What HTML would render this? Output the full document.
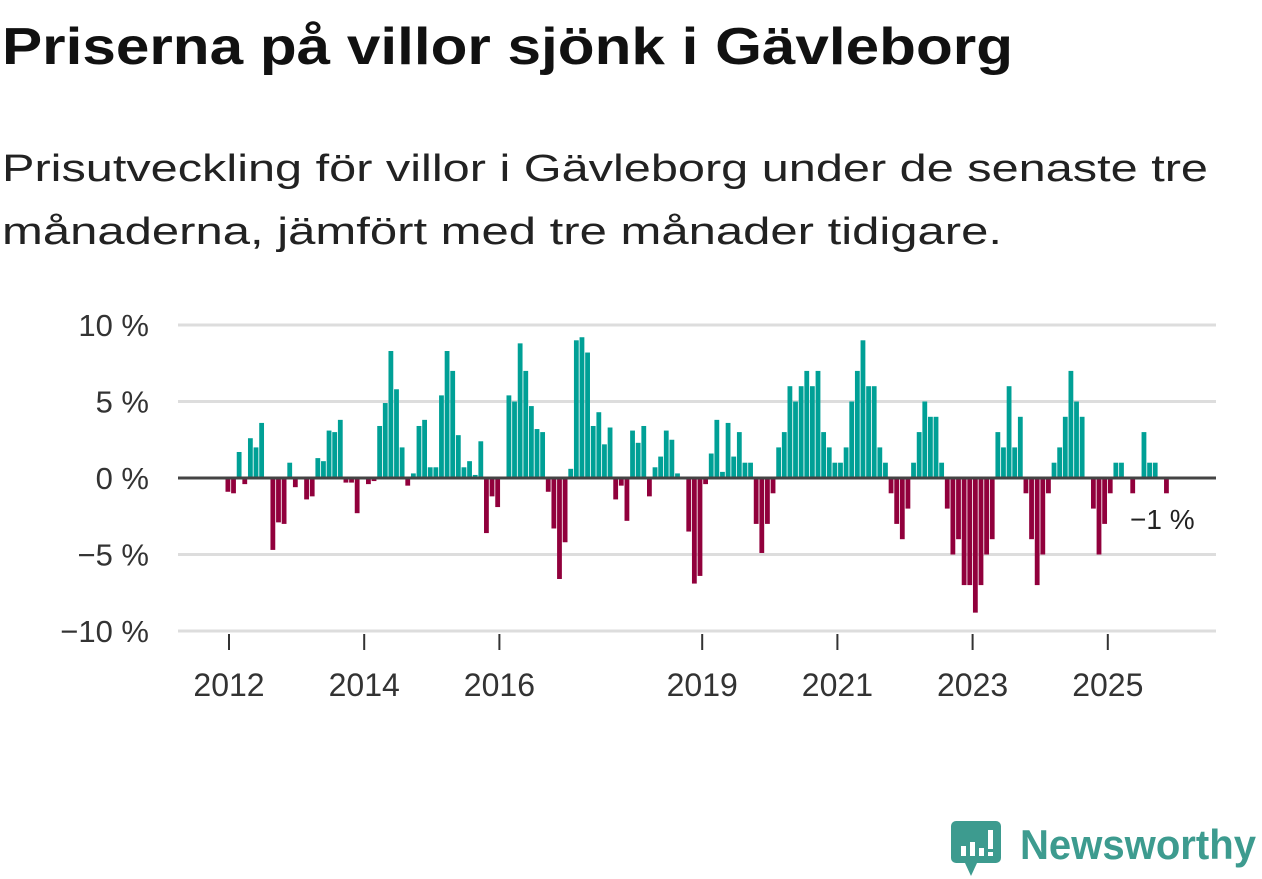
<!DOCTYPE html>
<html><head><meta charset="utf-8">
<style>
body{margin:0;width:1262px;height:879px;background:#fff;font-family:"Liberation Sans",sans-serif;overflow:hidden;position:relative;color:#111}
svg{position:absolute;left:0;top:0}
</style></head><body>
<svg width="1262" height="300">
<text x="2" y="64" font-size="52" font-weight="bold" fill="#111" textLength="1011" lengthAdjust="spacingAndGlyphs" font-family="Liberation Sans, sans-serif">Priserna på villor sjönk i Gävleborg</text>
<text x="2" y="181" font-size="38" fill="#222" textLength="1206" lengthAdjust="spacingAndGlyphs" font-family="Liberation Sans, sans-serif">Prisutveckling för villor i Gävleborg under de senaste tre</text>
<text x="2" y="244" font-size="38" fill="#222" textLength="1000" lengthAdjust="spacingAndGlyphs" font-family="Liberation Sans, sans-serif">månaderna, jämfört med tre månader tidigare.</text>
</svg>
<svg id="chart" width="1262" height="879"></svg>
<script>
const values=[-0.9,-1.0,1.7,-0.4,2.6,2.0,3.6,0,-4.7,-2.9,-3.0,1.0,-0.6,0,-1.4,-1.2,1.3,1.1,3.1,3.0,3.8,-0.3,-0.3,-2.3,0,-0.4,-0.2,3.4,4.9,8.3,5.8,2.0,-0.5,0.3,3.4,3.8,0.7,0.7,5.4,8.3,7.0,2.8,0.7,1.1,0.2,2.4,-3.6,-1.2,-1.9,0,5.4,5.0,8.8,7.0,4.7,3.2,3.0,-0.9,-3.3,-6.6,-4.2,0.6,9.0,9.2,8.2,3.4,4.3,2.2,3.3,-1.4,-0.5,-2.8,3.1,2.3,3.4,-1.2,0.7,1.4,3.1,2.5,0.3,0,-3.5,-6.9,-6.4,-0.4,1.6,3.8,0.4,3.6,1.4,3.0,1.0,1.0,-3.0,-4.9,-3.0,-1.0,2.0,3.0,6.0,5.0,6.0,7.0,6.0,7.0,3.0,2.0,1.0,1.0,2.0,5.0,7.0,9.0,6.0,6.0,2.0,1.0,-1.0,-3.0,-4.0,-2.0,1.0,3.0,5.0,4.0,4.0,1.0,-2.0,-5.0,-4.0,-7.0,-7.0,-8.8,-7.0,-5.0,-4.0,3.0,2.0,6.0,2.0,4.0,-1.0,-4.0,-7.0,-5.0,-1.0,1.0,2.0,4.0,7.0,5.0,4.0,0,-2.0,-5.0,-3.0,-1.0,1.0,1.0,0,-1.0,0,3.0,1.0,1.0,0,-1.0];
const yTicks=[10,5,0,-5,-10];
const yTickLabels=["10 %","5 %","0 %","−5 %","−10 %"];
const xTickYears=[2012,2014,2016,2019,2021,2023,2025];
const svg=document.getElementById('chart');
const NS='http://www.w3.org/2000/svg';
const y=v=>478-v*15.3;
const yearX=yr=>229+(yr-2012)*67.6;
const barX=i=>228+i*5.62;
function mk(t,a){const e=document.createElementNS(NS,t);for(const k in a)e.setAttribute(k,a[k]);svg.appendChild(e);return e;}
yTicks.forEach((v,i)=>{
 if(v!==0){const g=mk('line',{x1:178,x2:1216,y1:y(v),y2:y(v),stroke:'#ddd','stroke-width':3});
 
 }
 const t=mk('text',{x:149,y:y(v)+11,'text-anchor':'end','font-size':31,fill:'#333','font-family':'Liberation Sans, sans-serif'});
 t.textContent=yTickLabels[i];
 
 
});
values.forEach((v,i)=>{
 const r=mk('rect',{x:barX(i)-2.5,width:4.8,y:Math.min(y(v),y(0)),height:Math.abs(y(v)-y(0)),fill:v>=0?'#00a096':'#91003c'});
 
 
});
const z=mk('line',{x1:178,x2:1216,y1:y(0),y2:y(0),stroke:'#444','stroke-width':3});


xTickYears.forEach(yr=>{
 const x=yearX(yr);
 const tk=mk('line',{x1:x,x2:x,y1:634,y2:650,stroke:'#333','stroke-width':2});
 
 
 const t=mk('text',{x:x,y:696,'text-anchor':'middle','font-size':32,fill:'#333','font-family':'Liberation Sans, sans-serif'});
 t.textContent=yr;
 
 
});
const lab=mk('text',{x:1130,y:529,'font-size':28,fill:'#222','font-family':'Liberation Sans, sans-serif'});
lab.textContent='−1 %';


</script>
<svg width="1262" height="879" style="pointer-events:none">
<path d="M956 821h40a5 5 0 0 1 5 5v32a5 5 0 0 1-5 5h-19l-6 13-6-13h-9a5 5 0 0 1-5-5v-32a5 5 0 0 1 5-5z" fill="#3d9b8f"/>
<rect x="961" y="846" width="5" height="10" fill="#fff"/><rect x="970" y="842" width="5" height="14" fill="#fff"/><rect x="979" y="848" width="5" height="8" fill="#fff"/><rect x="988" y="830" width="5" height="19" fill="#fff"/><rect x="988" y="852" width="5" height="4" fill="#fff"/>
<text x="1020" y="859" font-size="42" font-weight="bold" fill="#3d9b8f" textLength="236" lengthAdjust="spacingAndGlyphs" font-family="Liberation Sans, sans-serif">Newsworthy</text>
</svg>
</body></html>
